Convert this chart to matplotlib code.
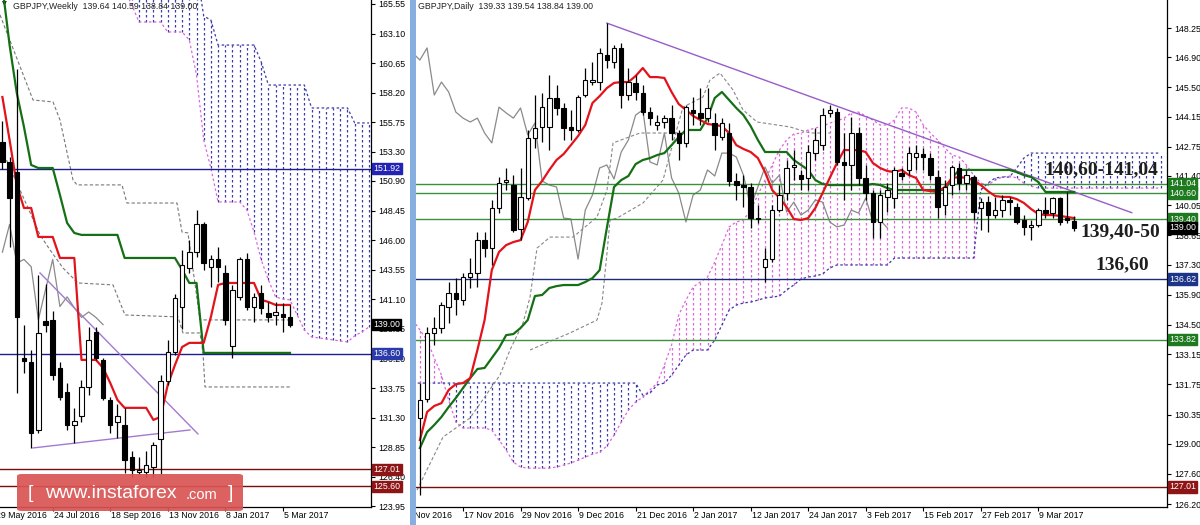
import matplotlib
matplotlib.use("Agg")
import matplotlib.pyplot as plt
import matplotlib.transforms as mtransforms
from matplotlib.patches import Rectangle, FancyBboxPatch
import numpy as np

plt.rcParams['font.family'] = ['Liberation Sans', 'DejaVu Sans']

# ---------------- weekly GBPJPY (left), bar 0 = week of 5 Jun 2016 ----------------
w_open = [154.1, 152.5, 151.6, 136.2, 135.9, 130.3, 139.3, 139.4, 135.4, 133.4,
          130.7, 131.4, 133.8, 138.4, 136.1, 132.8, 130.9, 130.7, 128.0, 126.8,
          126.8, 127.2, 129.5, 134.3, 136.7, 140.5, 143.7, 145.0, 147.3, 143.8,
          144.4, 143.3, 137.2, 141.3, 144.4, 140.5, 141.6, 140.0, 139.8, 139.9, 139.64]
w_high = [155.9, 152.9, 160.2, 139.0, 136.9, 143.1, 142.4, 140.1, 135.9, 134.2,
          132.1, 134.4, 138.8, 138.8, 136.2, 133.0, 132.4, 132.1, 128.5, 128.05,
          128.5, 129.3, 134.8, 137.7, 141.5, 145.2, 146.0, 148.5, 147.5, 144.8,
          145.4, 143.9, 142.3, 144.6, 144.9, 141.6, 142.3, 140.9, 140.9, 140.8, 140.59]
w_low = [151.9, 145.4, 133.3, 135.0, 128.8, 130.0, 138.4, 134.4, 132.8, 130.3,
         129.2, 130.9, 133.2, 136.1, 132.8, 130.0, 129.6, 126.7, 126.4, 126.6,
         126.4, 126.4, 126.6, 134.0, 136.5, 138.6, 143.3, 144.6, 143.5, 142.1,
         142.5, 139.0, 136.2, 141.0, 140.2, 139.2, 139.9, 139.2, 139.0, 138.4, 138.84]
w_close = [152.5, 149.5, 139.6, 136.0, 130.0, 138.3, 139.0, 134.8, 133.0, 130.7,
           131.0, 133.8, 137.7, 136.2, 132.9, 130.7, 131.4, 127.8, 127.0, 127.0,
           127.4, 129.0, 134.3, 136.7, 141.2, 143.9, 145.0, 147.3, 144.1, 144.4,
           143.8, 139.4, 141.9, 144.4, 140.5, 141.3, 140.4, 139.6, 140.05, 139.6, 139.0]
w_tenkan = [157.85, 154.29, 150.56, 148.66, 148.66, 146.26, 146.26, 146.26, 144.52, 144.52,
            144.52, 136.08, 136.08, 136.08, 135.42, 134.17, 132.77, 132.11, 132.11, 132.11,
            132.11, 131.11, 131.36, 134.01, 135.66, 137.15, 137.49, 137.49, 137.49, 139.64,
            142.29, 142.45, 142.45, 142.45, 142.45, 142.45, 141.05, 140.88, 140.63, 140.63, 140.63]
w_kijun = [167.0, 162.15, 158.18, 155.37, 152.22, 151.97, 151.97, 151.97, 149.74, 147.42,
           146.59, 146.43, 146.43, 146.43, 146.43, 146.43, 146.43, 144.52, 144.52, 144.52,
           144.52, 144.52, 144.52, 144.52, 144.52, 143.53, 142.45, 142.45, 136.66, 136.66,
           136.66, 136.66, 136.66, 136.66, 136.66, 136.66, 136.66, 136.66, 136.66, 136.66, 136.66]
# cloud, bars 17..51
w_cloud_start = 17
w_span_a = [166.71, 165.47, 164.06, 164.06, 164.06, 164.06, 163.23, 163.23, 163.23, 162.57,
            159.67, 154.29, 151.97, 149.16, 149.16, 149.16, 149.16, 148.50, 146.67, 144.36,
            142.70, 141.29, 141.13, 141.05, 139.80, 138.56, 137.98, 137.90, 137.82, 137.73,
            137.65, 137.57, 138.07, 138.40, 138.81]
w_span_b = [168.4] * 11 + [164.56, 164.22] + [162.15] * 6 + [160.75] + [158.84] * 6 \
           + [156.94] * 6 + [155.70] * 3
w_dash1_x = [-0.33, 4.26, 7.04, 8.01, 9.82, 10.38, 16.63, 17.33, 24.28, 24.98, 25.81, 27.48, 40.28]
w_dash1_y = [164.64, 157.60, 157.44, 155.95, 150.98, 150.57, 150.57, 149.07, 149.07, 146.67,
             146.59, 139.39, 139.39]
w_dash2_x = [-0.06, 2.45, 5.23, 6.62, 8.43, 10.51, 15.38, 17.05, 24.42, 25.12, 27.48, 27.9, 28.18, 40.28]
w_dash2_y = [153.46, 150.15, 146.43, 145.19, 143.69, 142.45, 142.29, 139.80, 139.64, 138.31,
             138.31, 136.66, 133.84, 133.84]
w_trend1 = ([5.23, 27.2], [143.28, 129.95])
w_trend2 = ([4.26, 26.09], [128.79, 130.28])
w_ticks = [-1, 7, 15, 23, 31, 39]
w_tick_labels = ['29 May 2016', '24 Jul 2016', '18 Sep 2016', '13 Nov 2016', '8 Jan 2017', '5 Mar 2017']
w_yticks = [165.55, 163.10, 160.65, 158.20, 155.75, 153.30, 150.90, 148.45, 146.00, 143.55,
            141.10, 138.65, 136.20, 133.75, 131.30, 128.85, 126.40, 123.95]

# ---------------- daily GBPJPY (right), bar 0 = 7 Nov 2016, candles on bars 2..93 ----------------
d_first = 2
d_open = [130.19, 131.07, 134.13, 134.36, 135.33, 135.98, 135.65, 136.72, 136.90, 138.43,
          138.06, 139.92, 141.12, 140.98, 138.94, 140.38, 143.16, 143.67, 143.67, 145.01,
          144.55, 143.67, 143.53, 145.15, 145.75, 145.75, 147.00, 146.68, 147.33, 145.15,
          145.71, 145.24, 144.36, 143.76, 143.90, 144.08, 143.39, 142.93, 144.46, 144.32,
          144.08, 143.85, 143.20, 143.39, 141.17, 140.98, 140.89, 139.45, 137.18, 137.55,
          139.82, 140.61, 141.82, 141.44, 141.31, 142.46, 142.83, 144.32, 144.36, 142.05,
          141.91, 143.39, 141.31, 140.61, 139.27, 140.43, 140.38, 141.54, 141.68, 142.28,
          142.42, 142.23, 141.35, 140.05, 140.98, 141.77, 141.07, 141.35, 139.92, 140.19,
          139.59, 139.82, 140.29, 139.96, 139.36, 139.04, 139.13, 139.82, 139.68, 140.38,
          139.45, 139.33]
d_high = [131.81, 134.40, 134.87, 135.56, 136.49, 136.67, 136.90, 137.60, 138.80, 138.80,
          140.29, 141.35, 141.77, 141.44, 141.77, 143.53, 145.15, 145.24, 146.08, 145.61,
          144.78, 144.46, 145.15, 146.40, 146.68, 147.33, 148.48, 147.47, 147.56, 146.40,
          146.08, 145.61, 144.59, 144.22, 144.22, 144.69, 143.53, 144.69, 145.06, 145.47,
          145.47, 144.32, 144.08, 143.85, 141.54, 141.44, 141.07, 140.05, 138.06, 140.05,
          140.98, 142.14, 142.60, 141.68, 142.83, 143.62, 144.55, 144.69, 144.55, 143.39,
          144.13, 143.67, 141.91, 140.75, 140.75, 141.07, 141.82, 141.77, 142.74, 142.83,
          142.70, 142.46, 141.68, 141.21, 141.91, 142.00, 141.68, 141.44, 140.38, 140.47,
          140.43, 140.52, 140.43, 140.15, 139.59, 139.36, 139.92, 140.43, 140.43, 140.43,
          140.66, 139.54]
d_low = [126.62, 130.93, 133.57, 134.13, 134.59, 134.96, 135.42, 136.21, 136.26, 137.65,
         137.28, 139.68, 140.75, 138.80, 138.43, 140.29, 142.70, 142.97, 142.60, 144.22,
         143.07, 143.07, 143.44, 145.06, 145.61, 145.38, 146.40, 146.40, 144.55, 144.92,
         144.92, 144.22, 143.76, 143.53, 143.62, 143.07, 142.14, 142.74, 143.76, 143.76,
         143.90, 142.60, 143.07, 140.93, 140.29, 139.96, 138.99, 139.22, 136.49, 137.41,
         139.73, 140.29, 141.21, 140.75, 140.75, 142.14, 142.60, 144.13, 141.91, 140.29,
         140.75, 140.98, 140.29, 138.53, 138.53, 139.73, 139.92, 141.21, 141.44, 141.68,
         141.68, 141.21, 139.45, 139.59, 140.52, 140.75, 140.75, 139.36, 138.90, 138.80,
         139.45, 139.50, 139.59, 139.17, 138.67, 138.43, 139.04, 139.45, 139.45, 139.13,
         139.22, 138.84]
d_close = [131.02, 134.13, 134.36, 135.42, 135.98, 135.70, 136.72, 136.90, 138.43, 138.06,
           139.92, 141.07, 141.21, 138.90, 140.43, 143.16, 143.62, 144.59, 145.01, 144.55,
           143.62, 143.53, 145.06, 145.84, 145.84, 147.10, 146.77, 147.33, 145.15, 145.75,
           145.29, 144.36, 144.08, 143.90, 144.08, 143.39, 142.93, 144.59, 144.32, 144.08,
           144.55, 143.30, 143.85, 141.17, 140.98, 140.89, 139.45, 139.41, 137.55, 139.82,
           140.52, 141.77, 141.91, 141.26, 142.51, 143.07, 144.22, 144.46, 142.05, 141.91,
           143.39, 141.31, 140.61, 139.27, 140.52, 140.75, 141.68, 141.40, 142.46, 142.46,
           142.28, 141.44, 139.96, 140.89, 141.82, 141.07, 141.44, 139.73, 140.19, 139.59,
           139.82, 140.29, 140.19, 139.27, 139.04, 139.13, 139.82, 139.68, 140.38, 139.27,
           139.36, 139.00]
d_tenkan = [129.17, 130.47, 130.75, 130.88, 131.49, 131.76, 131.81, 132.04, 133.34, 134.73,
            137.04, 137.88, 138.20, 138.34, 138.43, 139.27, 140.75, 141.17, 141.68, 142.14,
            142.42, 142.83, 143.25, 143.76, 144.78, 145.10, 145.47, 145.71, 145.75, 145.75,
            146.03, 146.40, 145.98, 145.98, 145.94, 145.29, 144.73, 144.46, 144.18, 143.99,
            143.81, 143.76, 143.71, 143.39, 142.83, 142.65, 142.51, 142.23, 141.58, 140.75,
            140.38, 139.96, 139.41, 139.36, 139.45, 139.92, 140.61, 141.31, 142.00, 142.60,
            142.60, 142.60, 142.51, 142.00, 141.77, 141.63, 141.58, 141.68, 141.44, 141.31,
            140.75, 140.70, 140.66, 140.89, 141.31, 141.35, 141.31, 141.21, 140.98, 140.70,
            140.47, 140.43, 140.43, 140.33, 140.15, 139.87, 139.64, 139.59, 139.59, 139.55,
            139.50, 139.45]
d_kijun = [128.80, 129.54, 129.87, 130.24, 130.70, 131.12, 131.58, 132.04, 132.46, 132.51,
           132.97, 133.43, 134.03, 134.08, 134.36, 134.73, 135.84, 135.89, 136.21, 136.30,
           136.35, 136.35, 136.35, 136.49, 136.67, 137.04, 138.99, 140.89, 141.21, 141.40,
           141.95, 142.14, 142.23, 142.37, 142.46, 142.83, 143.20, 143.53, 143.53, 143.53,
           144.08, 145.01, 145.29, 144.92, 144.55, 144.22, 143.71, 143.07, 142.51, 142.51,
           142.51, 142.51, 142.14, 141.91, 141.68, 141.21, 141.03, 140.98, 140.98, 140.98,
           140.98, 140.98, 140.98, 141.03, 140.98, 140.84, 140.75, 140.75, 140.75, 140.75,
           140.75, 140.75, 140.75, 140.75, 141.31, 141.68, 141.68, 141.68, 141.68, 141.68,
           141.68, 141.68, 141.68, 141.58, 141.44, 141.35, 141.12, 140.66, 140.66, 140.66,
           140.66, 140.66]
# cloud, bars 1..105
d_cloud_start = 1
d_span_a = [134.73, 134.27, 133.80, 132.97, 132.18, 131.02, 130.00, 129.73, 129.73, 129.73,
            129.73, 129.63, 129.17, 128.71, 128.15, 127.92, 127.87, 127.87, 127.87, 127.87,
            127.92, 128.01, 128.11, 128.24, 128.38, 128.52, 128.61, 128.89, 129.40, 130.00,
            130.56, 130.93, 131.16, 131.49, 131.81, 132.64, 133.57, 134.96, 135.65, 136.26,
            136.49, 136.72, 137.41, 138.20, 139.04, 139.27, 139.36, 139.82, 140.52, 141.21,
            141.91, 142.60, 143.07, 143.34, 143.39, 143.53, 143.62, 143.71, 143.85, 143.95,
            144.08, 144.32, 144.36, 144.18, 143.99, 143.76, 143.76, 143.99, 144.55, 144.55,
            144.36, 143.76, 143.39, 143.07, 142.70, 142.37, 142.28, 141.91, 141.44, 141.07,
            140.98, 141.21, 141.35, 141.40, 141.31, 141.07, 140.93, 140.84] + [140.84] * 17
d_span_b = [131.81] * 32 + [131.25, 131.35, 131.72, 131.81, 132.18, 132.64, 133.11, 133.34,
                            133.34, 133.34, 133.80, 134.50, 135.19, 135.42, 135.52, 135.56,
                            135.65, 135.75, 135.79, 135.84, 136.12, 136.35, 136.63, 136.72,
                            136.77, 136.86, 137.14] \
           + [137.28] * 8 + [137.60] * 12 + [140.75, 141.07, 141.31, 141.35, 141.35, 141.77, 142.23] \
           + [142.46] * 19
d_dash1_x = [1.6, 5.22, 8.97, 13.14, 14.53, 16.34, 17.32, 18.29, 20.1, 23.3, 26.63, 28.02,
             28.86, 32.61, 39.57]
d_dash1_y = [126.85, 129.31, 130.19, 132.18, 133.34, 134.59, 135.79, 138.06, 138.57, 138.57,
             139.50, 140.75, 142.93, 143.39, 143.39]
d_dash2_x = [17.32, 20.51, 22.88, 26.63, 27.33, 28.02, 28.44, 29.42, 33.03, 35.81, 37.2, 38.59,
             41.37, 42.34, 43.74, 45.55, 46.94, 48.89, 53.48, 56.26, 59.04]
d_dash2_y = [133.34, 133.80, 134.13, 134.73, 135.52, 137.83, 139.36, 139.45, 140.15, 141.21,
             142.93, 144.59, 145.06, 145.84, 146.17, 145.38, 144.46, 143.90, 143.67, 143.39, 143.39]
d_trend = ([28, 101], [148.48, 139.70])
d_ticks = [0, 8, 16, 24, 32, 40, 48, 56, 64, 72, 80, 88]
d_tick_labels = ['7 Nov 2016', '17 Nov 2016', '29 Nov 2016', '9 Dec 2016', '21 Dec 2016',
                 '2 Jan 2017', '12 Jan 2017', '24 Jan 2017', '3 Feb 2017', '15 Feb 2017',
                 '27 Feb 2017', '9 Mar 2017']
d_yticks = [148.25, 146.90, 145.50, 144.15, 142.75, 141.40, 140.05, 138.65, 137.30, 135.90,
            134.50, 133.15, 131.75, 130.35, 129.00, 127.60, 126.20]

# level lines and price tags
w_levels = [(151.92, '#1d1d8f', '#2323b4'), (136.60, '#1d1d8f', '#2a3aaa'),
            (127.01, '#7a0c0c', '#8e1515'), (125.60, '#7a0c0c', '#8e1515')]
d_levels = [(141.04, '#3d8f3d', '#1e7a1e'), (140.60, '#3d8f3d', '#1e7a1e'),
            (139.40, '#3d8f3d', '#1e7a1e'), (133.82, '#3d8f3d', '#1e7a1e'),
            (136.62, '#1d2a78', '#1d3588'), (127.01, '#7a0c0c', '#8e1515')]

RED = '#e3131b'
GREEN = '#157015'
PINK = '#dd66dd'
BLUE = '#3a3aa8'
GREY = '#8a8a8a'
FS = 6.3

fig = plt.figure(figsize=(12, 5.25), dpi=100)


def px_box(x0, y0, x1, y1):
    return [x0 / 1200, 1 - y1 / 525, (x1 - x0) / 1200, (y1 - y0) / 525]


axl = fig.add_axes(px_box(0, 0, 371, 507))
axr = fig.add_axes(px_box(416, 0, 1167, 507))


def draw_candles(ax, first, o, h, l, c, min_h):
    for k in range(len(o)):
        x = first + k
        ax.plot([x, x], [l[k], h[k]], color='black', lw=0.9, zorder=6, solid_capstyle='butt')
        bot = min(o[k], c[k])
        body = max(abs(c[k] - o[k]), min_h)
        fc = 'white' if c[k] > o[k] else 'black'
        ax.add_patch(Rectangle((x - 0.31, bot), 0.62, body, facecolor=fc, edgecolor='black',
                               lw=0.8, zorder=7))


def draw_cloud(ax, first, a, b):
    idx = np.arange(first, first + len(a))
    a = np.asarray(a)
    b = np.asarray(b)
    up = a >= b
    ax.vlines(idx[up], b[up], a[up], colors=PINK, linestyles=[(0, (2, 2))], lw=0.9, zorder=1)
    ax.vlines(idx[~up], a[~up], b[~up], colors=BLUE, linestyles=[(0, (2, 2))], lw=0.9, zorder=1)
    ax.plot(idx, a, color=PINK, ls=(0, (2, 2)), lw=0.9, zorder=1)
    ax.plot(idx, b, color=BLUE, ls=(0, (2, 2)), lw=0.9, zorder=1)


def style_axis(ax, yticks, xticks, xlabels, clip=None):
    for s in ['top', 'left']:
        ax.spines[s].set_visible(False)
    ax.spines['right'].set_linewidth(0.9)
    ax.spines['bottom'].set_linewidth(0.9)
    ax.yaxis.tick_right()
    ax.set_yticks(yticks)
    ax.set_yticklabels(['%.2f' % t for t in yticks])
    ax.tick_params(axis='y', length=3, width=0.8, labelsize=FS, pad=2)
    lo, hi = ax.get_xlim()
    inside = [t for t in xticks if lo <= t <= hi]
    ax.set_xticks(inside)
    ax.set_xticklabels([])
    ax.tick_params(axis='x', length=3, width=0.8, direction='out')
    for t, lab in zip(xticks, xlabels):
        txt = ax.text(t + 0.15, -0.008, lab, transform=ax.get_xaxis_transform(),
                      ha='left', va='top', fontsize=FS, clip_on=False)
        if clip is not None:
            txt.set_clip_box(clip)
            txt.set_clip_on(True)


def price_tag(ax, value, bg, dx):
    ax.text(1 + dx, value, '%.2f' % value, transform=ax.get_yaxis_transform(),
            ha='left', va='center', fontsize=FS, color='white', zorder=10, clip_on=False,
            bbox=dict(boxstyle='square,pad=0.15', fc=bg, ec=bg))


# ---------------- left: weekly ----------------
axl.set_xlim(-0.334, 51.27)
axl.set_ylim(123.90, 165.88)
w_idx = np.arange(len(w_open))
draw_cloud(axl, w_cloud_start, w_span_a, w_span_b)
axl.plot(w_dash1_x, w_dash1_y, color='#777777', ls=(0, (3, 2)), lw=0.8, zorder=2)
axl.plot(w_dash2_x, w_dash2_y, color='#777777', ls=(0, (3, 2)), lw=0.8, zorder=2)
axl.plot(w_idx[26:] - 26, w_close[26:], color=GREY, lw=0.9, zorder=2)
for val, lc, bg in w_levels:
    axl.axhline(val, color=lc, lw=1.0, zorder=2)
axl.plot(*w_trend1, color='#a27ad0', lw=1.0, zorder=3)
axl.plot(*w_trend2, color='#a27ad0', lw=1.0, zorder=3)
axl.plot(w_idx, w_kijun, color=GREEN, lw=1.6, zorder=4)
axl.plot(w_idx, w_tenkan, color=RED, lw=1.6, zorder=4)
draw_candles(axl, 0, w_open, w_high, w_low, w_close, 0.09)
style_axis(axl, w_yticks, w_ticks, w_tick_labels)
for val, lc, bg in w_levels:
    price_tag(axl, val, bg, 0.006)
price_tag(axl, w_close[-1], 'black', 0.006)
axl.text(0.006, 0.997, '\u25bc', transform=axl.transAxes, fontsize=4.5, va='top', ha='left',
         family=['DejaVu Sans'])
axl.text(0.035, 0.997, 'GBPJPY,Weekly  139.64 140.59 138.84 139.00', transform=axl.transAxes,
         fontsize=FS, va='top', ha='left', color='#222222')

# ---------------- right: daily ----------------
axr.set_xlim(1.46, 105.9)
axr.set_ylim(126.07, 149.55)
d_idx = np.arange(d_first, d_first + len(d_open))
draw_cloud(axr, d_cloud_start, d_span_a, d_span_b)
axr.plot(d_dash1_x, d_dash1_y, color='#888888', ls=(0, (3, 2)), lw=0.8, zorder=2)
axr.plot(d_dash2_x, d_dash2_y, color='#888888', ls=(0, (3, 2)), lw=0.8, zorder=2)
ck = d_idx >= 27
axr.plot(d_idx[ck] - 26, np.asarray(d_close)[ck], color=GREY, lw=0.9, zorder=2)
for val, lc, bg in d_levels:
    axr.axhline(val, color=lc, lw=1.0, zorder=2)
axr.plot(*d_trend, color='#9a5cc8', lw=1.0, zorder=3)
axr.plot(d_idx, d_kijun, color=GREEN, lw=1.6, zorder=4)
axr.plot(d_idx, d_tenkan, color=RED, lw=1.6, zorder=4)
draw_candles(axr, d_first, d_open, d_high, d_low, d_close, 0.05)
clip = mtransforms.TransformedBbox(mtransforms.Bbox([[411 / 1200, 0], [1, 1]]), fig.transFigure)
style_axis(axr, d_yticks, d_ticks, d_tick_labels, clip=clip)
for val, lc, bg in d_levels:
    price_tag(axr, val, bg, 0.0027)
price_tag(axr, d_close[-1], 'black', 0.0027)
axr.text(0.003, 0.997, 'GBPJPY,Daily  139.33 139.54 138.84 139.00', transform=axr.transAxes,
         fontsize=FS, va='top', ha='left', color='#222222')

serif = dict(family=['Liberation Serif', 'DejaVu Serif'], fontweight='bold', fontsize=14,
             color='#1e1e1e', va='center', ha='left', zorder=12)
axr.text(88.9, 141.68, '140,60-141,04', **serif)
axr.text(93.8, 138.80, '139,40-50', **serif)
axr.text(95.9, 137.28, '136,60', **serif)

# frame strip of the daily window
fig.add_artist(Rectangle((410 / 1200, 0), 6 / 1200, 1, transform=fig.transFigure,
                         facecolor='#86afe0', edgecolor='none', zorder=5))

# watermark
fig.add_artist(FancyBboxPatch((17 / 1200, 1 - 511 / 525), 226 / 1200, 37 / 525,
                              boxstyle='round,pad=0,rounding_size=0.004',
                              transform=fig.transFigure, facecolor='#d95454', edgecolor='none',
                              alpha=0.92, zorder=6))
wy = 1 - 493 / 525
fig.text(28 / 1200, wy, '[', color='white', fontsize=14, va='center', ha='left', zorder=7)
fig.text(45 / 1200, wy, 'www.instaforex', color='white', fontsize=14, va='center', ha='left', zorder=7)
fig.text(186 / 1200, wy - 0.004, '.com', color='white', fontsize=10.5, va='center', ha='left', zorder=7)
fig.text(228 / 1200, wy, ']', color='white', fontsize=14, va='center', ha='left', zorder=7)

fig.savefig('out.png', dpi=100)
